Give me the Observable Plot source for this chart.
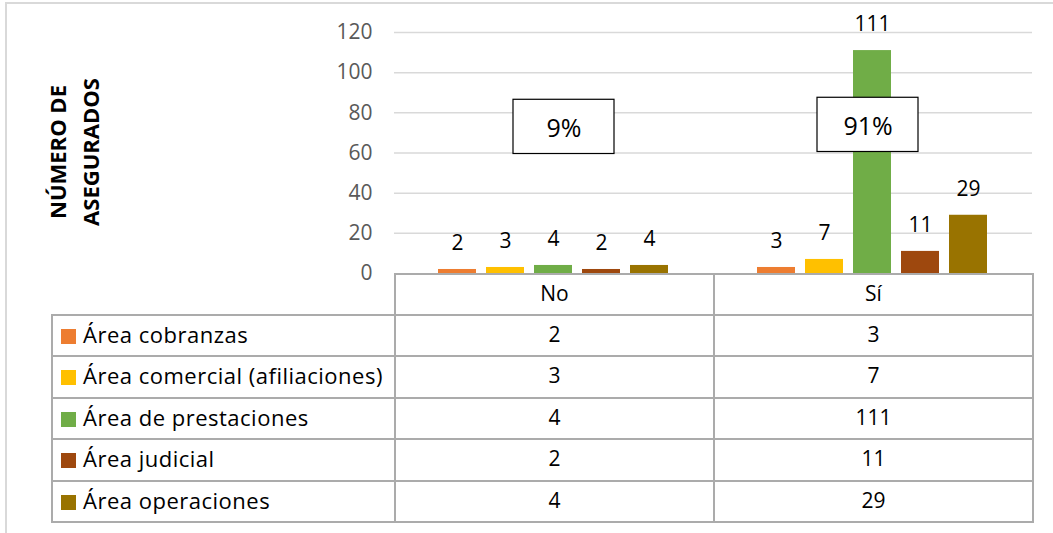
<!DOCTYPE html>
<html>
<head>
<meta charset="utf-8">
<script src="https://cdn.jsdelivr.net/npm/d3@7"></script>
<script src="https://cdn.jsdelivr.net/npm/@observablehq/plot@0.6"></script>
<style>
  html, body { margin: 0; padding: 0; background: #fff; }
  #wrap { position: relative; width: 1053px; height: 533px; overflow: hidden; font-family: "Open Sans", sans-serif; }
  #frame { position: absolute; left: 5px; top: 2px; right: -4px; bottom: -4px; border-top: 2px solid #d9d9d9; border-left: 2px solid #d9d9d9; }
  #chart { position: absolute; left: 0; top: 0; }
  #ytitle { position: absolute; left: -26.5px; top: 119px; width: 200px; height: 66px; transform: rotate(-90deg);
            text-align: center; font-weight: bold; font-size: 22px; line-height: 33px; color: #000; }
  table { position: absolute; left: 51px; top: 273px; width: 981px; border-collapse: collapse; table-layout: fixed; color: #000; }
  td { border: 2px solid #ababab; padding: 0 0 3px 0; text-align: center; vertical-align: middle; font-size: 21px; height: 41.5px; box-sizing: border-box; }
  tr.head td { height: 40.5px; }
  tr.head td.blank { border-top: none; border-left: none; }
  td.lab { text-align: left; padding-left: 8px; font-size: 22px; letter-spacing: 0.5px; white-space: nowrap; }
  td.lab span.sw { display: inline-block; width: 15px; height: 15px; margin-right: 7px; vertical-align: -1px; }
</style>
</head>
<body>
<div id="wrap">
  <div id="frame"></div>
  <div id="chart"></div>
  <div id="ytitle">NÚMERO DE<br>ASEGURADOS</div>
</div>
<script>
// ---- data ----
const categories = ["No", "Sí"];
const series = ["Área cobranzas", "Área comercial (afiliaciones)", "Área de prestaciones", "Área judicial", "Área operaciones"];
const valuesNo = [2, 3, 4, 2, 4];
const valuesSi = [3, 7, 111, 11, 29];
const shares = ["9%", "91%"];
const yTicks = [0, 20, 40, 60, 80, 100, 120];
const colors = ["#ED7D31", "#FFC000", "#70AD47", "#9E480E", "#997300"];

// ---- tables built from the arrays ----
const valuesByCat = {"No": valuesNo, "Sí": valuesSi};
const data = [];
categories.forEach(c => series.forEach((s, i) => data.push({cat: c, series: s, value: valuesByCat[c][i]})));
const shareData = categories.map((c, i) => ({cat: c, label: shares[i]}));

const chart = Plot.plot({
  width: 1053,
  height: 290,
  marginTop: 32,
  marginBottom: 17,
  marginLeft: 394,
  marginRight: 21,
  style: {fontFamily: '"Open Sans", sans-serif', fontSize: "21px", color: "#595959", background: "transparent", overflow: "visible"},
  fx: {domain: categories, padding: 0, axis: null, label: null},
  x: {domain: series, paddingInner: 0.2, paddingOuter: 0.86, axis: null, label: null},
  y: {domain: [0, 120], ticks: yTicks, tickSize: 0, tickPadding: 22, label: null, tickFormat: d => String(d)},
  color: {domain: series, range: colors},
  marks: [
    Plot.ruleY(yTicks.filter(d => d > 0), {stroke: "#d9d9d9", strokeWidth: 1.5}),
    Plot.barY(data, {fx: "cat", x: "series", y: "value", fill: "series"}),
    Plot.text(data, {fx: "cat", x: "series", y: "value", text: d => String(d.value), dy: -26, fill: "#000", fontSize: 21}),
    Plot.rect(shareData.filter(d => d.cat === "No"), {fx: "cat", y1: 59.5, y2: 86.5, insetLeft: 119, insetRight: 99, fill: "#fff", stroke: "#000", strokeWidth: 1.2}),
    Plot.rect(shareData.filter(d => d.cat === "Sí"), {fx: "cat", y1: 60.5, y2: 87.5, insetLeft: 104, insetRight: 114, fill: "#fff", stroke: "#000", strokeWidth: 1.2}),
    Plot.text(shareData.filter(d => d.cat === "No"), {fx: "cat", y: 73, text: "label", dx: 10, dy: 2, fill: "#000", fontSize: 25}),
    Plot.text(shareData.filter(d => d.cat === "Sí"), {fx: "cat", y: 74, text: "label", dx: -5, dy: 2, fill: "#000", fontSize: 25})
  ]
});
document.getElementById("chart").appendChild(chart);

// ---- data table below the chart ----
const table = document.createElement("table");
const cg = document.createElement("colgroup");
[343, 319, 319].forEach(w => { const col = document.createElement("col"); col.style.width = w + "px"; cg.appendChild(col); });
table.appendChild(cg);
const head = document.createElement("tr");
head.className = "head";
const blank = document.createElement("td"); blank.className = "blank"; head.appendChild(blank);
categories.forEach(c => { const td = document.createElement("td"); td.textContent = c; head.appendChild(td); });
table.appendChild(head);
series.forEach((s, i) => {
  const tr = document.createElement("tr");
  const lab = document.createElement("td");
  lab.className = "lab";
  const sw = document.createElement("span"); sw.className = "sw"; sw.style.background = colors[i];
  lab.appendChild(sw);
  lab.appendChild(document.createTextNode(s));
  tr.appendChild(lab);
  categories.forEach(c => { const td = document.createElement("td"); td.textContent = String(valuesByCat[c][i]); tr.appendChild(td); });
  table.appendChild(tr);
});
document.getElementById("wrap").appendChild(table);
</script>
</body>
</html>
